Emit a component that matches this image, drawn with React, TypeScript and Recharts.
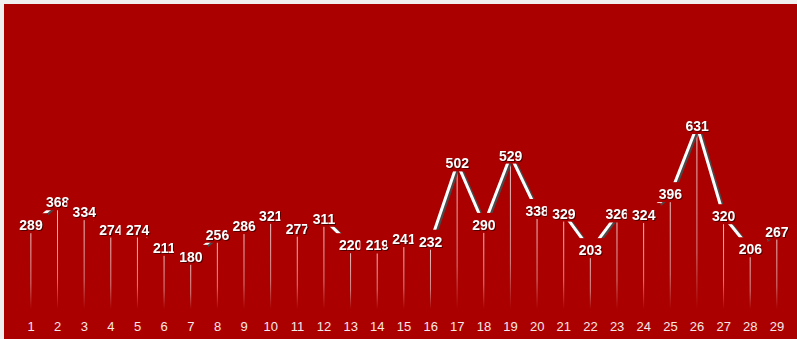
import { ComposedChart, Bar, Line, XAxis, YAxis, LabelList } from 'recharts'

const days = ['1', '2', '3', '4', '5', '6', '7', '8', '9', '10', '11', '12', '13', '14', '15',
  '16', '17', '18', '19', '20', '21', '22', '23', '24', '25', '26', '27', '28', '29']
const counts = [289, 368, 334, 274, 274, 211, 180, 256, 286, 321, 277, 311, 220, 219, 241,
  232, 502, 290, 529, 338, 329, 203, 326, 324, 396, 631, 320, 206, 267]

const data = days.map((d, i) => ({ day: d, count: counts[i] }))

const RED = '#ab0000'

// thin fading drop line from each point down to the baseline
const DropLine = (p: any) => {
  const { x, y, width, height } = p
  if (!height) return null
  return <rect x={x + width / 2 - 0.5} y={y} width={1} height={height} fill="url(#dropFade)" />
}

// value label sits on the point with a red box that hides the line under it
const ValueLabel = (p: any) => {
  const { x, y, value } = p
  return (
    <g>
      <rect x={x - 17} y={y - 12} width={34} height={20} fill={RED} />
      <text
        x={x} y={y + 5} textAnchor="middle" fill="#ffffff"
        fontSize={14} fontWeight="bold" fontFamily="'Liberation Sans', Arial, sans-serif"
        style={{ filter: 'drop-shadow(1px 1px 0 rgba(40,0,0,0.7))' }}
      >
        {value}
      </text>
    </g>
  )
}

const DayTick = (p: any) => {
  const { x, y, payload } = p
  return (
    <text
      x={x} y={y + 21.5} textAnchor="middle" fill="#f6e8e8"
      fontSize={13} fontFamily="'Liberation Sans', Arial, sans-serif"
    >
      {payload.value}
    </text>
  )
}

export default function App() {
  return (
    <div style={{ position: 'fixed', inset: 0, background: '#f0f0f0' }}>
      <style>{`.shadow-line .recharts-line-curve { filter: drop-shadow(2px 1px 0 #4a4a4a); }`}</style>
      <div style={{ position: 'absolute', left: 4, top: 4, width: 793, height: 335, background: RED, overflow: 'hidden' }}>
        <ComposedChart width={793} height={335} data={data} margin={{ top: 15, right: 6.7, left: 13.7, bottom: 0 }}>
          <defs>
            <linearGradient id="dropFade" x1="0" y1="0" x2="0" y2="1">
              <stop offset="0%" stopColor="#ffffff" stopOpacity={0.8} />
              <stop offset="70%" stopColor="#ffffff" stopOpacity={0.5} />
              <stop offset="100%" stopColor="#ffffff" stopOpacity={0} />
            </linearGradient>
          </defs>
          <XAxis
            dataKey="day" axisLine={false} tickLine={false} tickSize={0} tickMargin={0}
            height={30} interval={0} tick={<DayTick />}
          />
          <YAxis hide domain={[0, 1000]} />
          <Bar dataKey="count" shape={<DropLine />} isAnimationActive={false} />
          <Line
            className="shadow-line" dataKey="count" stroke="#ffffff" strokeWidth={3}
            dot={false} activeDot={false} isAnimationActive={false} type="linear"
          >
            <LabelList dataKey="count" content={<ValueLabel />} />
          </Line>
        </ComposedChart>
      </div>
    </div>
  )
}
